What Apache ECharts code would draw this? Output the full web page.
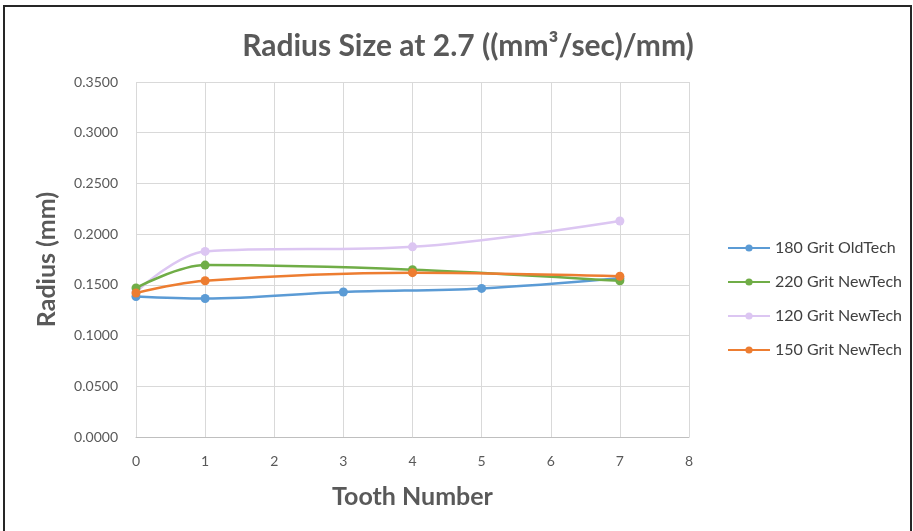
<!DOCTYPE html>
<html>
<head>
<meta charset="utf-8">
<script src="https://cdn.jsdelivr.net/npm/echarts@6/dist/echarts.min.js"></script>
<style>
  html, body { margin: 0; padding: 0; background: #fff; }
  #frame { position: absolute; left: 3px; top: 5px; width: 905px; height: 540px; border: 2px solid #262626; border-bottom: none; }
  #chart { position: absolute; left: 0; top: 0; width: 913px; height: 531px; }
</style>
</head>
<body>
<div id="frame"></div>
<div id="chart"></div>
<script>
var seriesNames = ['180 Grit OldTech', '220 Grit NewTech', '120 Grit NewTech', '150 Grit NewTech'];
var colors = ['#5B9BD5', '#70AD47', '#DCC6F2', '#ED7D31'];
var teeth180 = [0, 1, 3, 5, 7];
var radius180 = [0.1385, 0.1365, 0.1430, 0.1465, 0.1565];
var teeth220 = [0, 1, 4, 7];
var radius220 = [0.1470, 0.1695, 0.1650, 0.1540];
var teeth120 = [0, 1, 4, 7];
var radius120 = [0.1430, 0.1830, 0.1875, 0.2130];
var teeth150 = [0, 1, 4, 7];
var radius150 = [0.1420, 0.1540, 0.1620, 0.1585];

function pairs(xs, ys) {
    return xs.map(function(x, i) { return [x, ys[i]]; });
}

var allData = [pairs(teeth180, radius180), pairs(teeth220, radius220), pairs(teeth120, radius120), pairs(teeth150, radius150)];

var myChart = echarts.init(document.getElementById('chart'));
var option = {
    backgroundColor: 'transparent',
    color: colors,
    title: {
        text: 'Radius Size at 2.7 ((mm³/sec)/mm)',
        left: 463,
        top: 26,
        textAlign: 'center',
        textStyle: { fontFamily: 'Lato', fontWeight: 'bold', fontSize: 30, color: '#595959' }
    },
    legend: {
        orient: 'vertical',
        left: 722,
        top: 235,
        itemGap: 18,
        itemWidth: 42,
        itemHeight: 9,
        data: seriesNames,
        textStyle: { fontFamily: 'Lato', fontSize: 16, color: '#404040' }
    },
    grid: { left: 136, right: 224, top: 82, bottom: 94 },
    xAxis: {
        type: 'value',
        min: 0, max: 8, interval: 1,
        name: 'Tooth Number',
        nameLocation: 'middle',
        nameGap: 47,
        nameTextStyle: { fontFamily: 'Lato', fontWeight: 'bold', fontSize: 25, color: '#595959' },
        axisLine: { show: true, lineStyle: { color: '#bfbfbf' } },
        axisTick: { show: false },
        axisLabel: { fontFamily: 'Lato', fontSize: 14, color: '#595959', margin: 17 },
        splitLine: { show: true, lineStyle: { color: '#d9d9d9' } }
    },
    yAxis: {
        type: 'value',
        min: 0, max: 0.35, interval: 0.05,
        name: 'Radius (mm)',
        nameLocation: 'middle',
        nameGap: 77,
        nameTextStyle: { fontFamily: 'Lato', fontWeight: 'bold', fontSize: 25, color: '#595959' },
        axisLine: { show: false },
        axisTick: { show: false },
        axisLabel: {
            fontFamily: 'Lato', fontSize: 14, color: '#595959', margin: 18,
            formatter: function(v) { return v.toFixed(4); }
        },
        splitLine: { show: true, lineStyle: { color: '#d9d9d9' } }
    },
    series: seriesNames.map(function(name, i) {
        return {
            name: name,
            type: 'line',
            smooth: 0.35,
            symbol: 'circle',
            symbolSize: 9,
            lineStyle: { width: 2.5 },
            z: i === 2 ? 1 : 2 + i,
            data: allData[i]
        };
    })
};
myChart.setOption(option);
</script>
</body>
</html>
